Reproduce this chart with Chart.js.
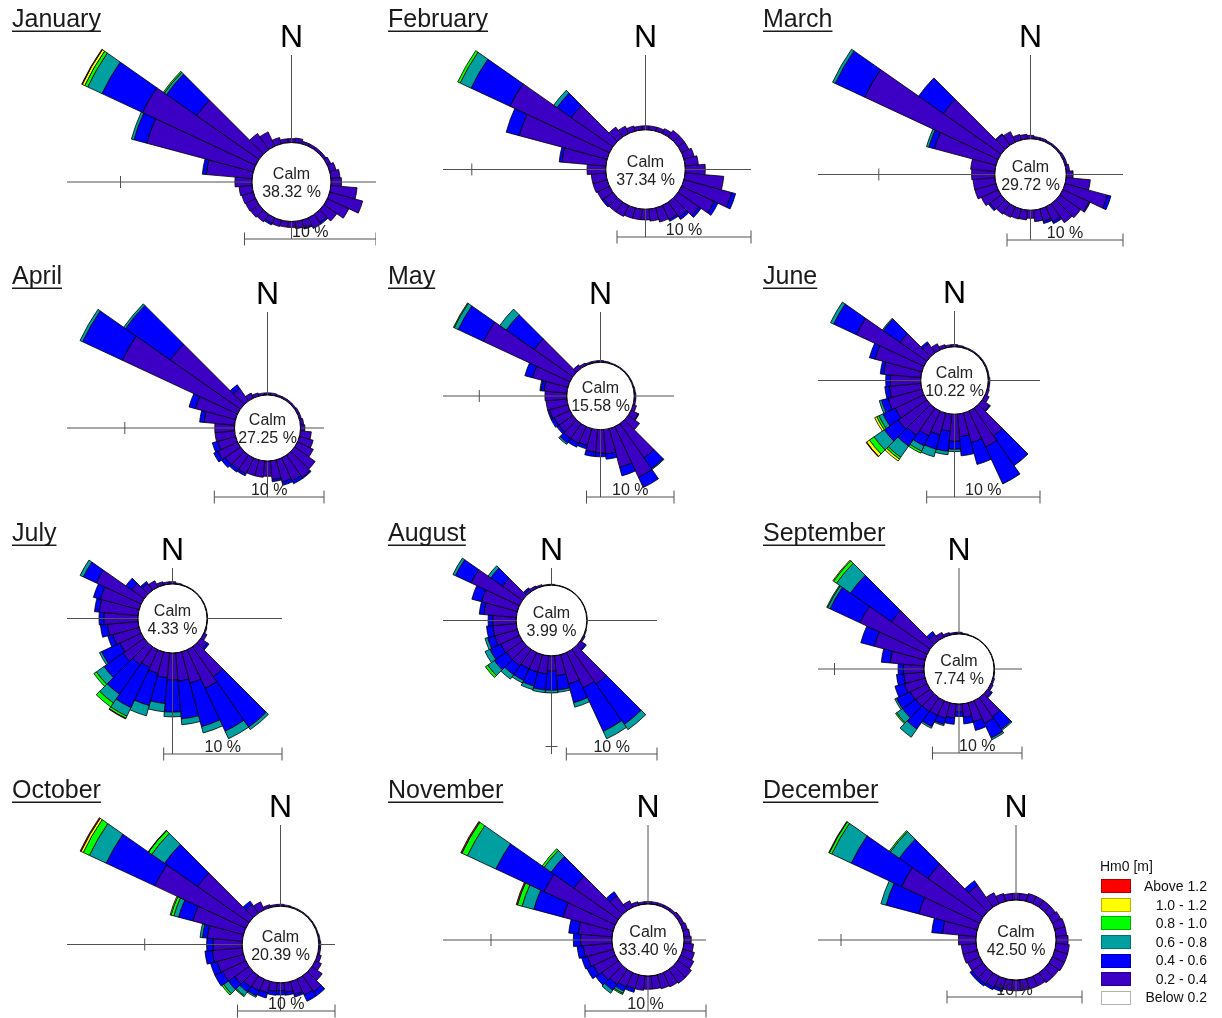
<!DOCTYPE html>
<html>
<head>
<meta charset="utf-8">
<script src="https://cdn.jsdelivr.net/npm/chart.js@4.4.0/dist/chart.umd.min.js"></script>
<style>
  html, body { margin: 0; padding: 0; background: #fff; width: 1222px; height: 1018px; overflow: hidden; }
  canvas { position: absolute; }
  .lg { position: absolute; font: 14px "Liberation Sans", Arial, sans-serif; color: #111; white-space: nowrap; }
  .lgbox { position: absolute; box-sizing: border-box; border: 1px solid rgba(0,0,0,0.3); }
</style>
</head>
<body>
<script>
// wave roses, Hm0 [m], 36 sectors of 10 degrees
const months = ['January', 'February', 'March', 'April', 'May', 'June',
  'July', 'August', 'September', 'October', 'November', 'December'];
const calmPercent = [38.32, 37.34, 29.72, 27.25, 15.58, 10.22, 4.33, 3.99, 7.74, 20.39, 33.40, 42.50];
const directions = [0, 10, 20, 30, 40, 50, 60, 70, 80, 90, 100, 110, 120, 130, 140, 150, 160, 170,
  180, 190, 200, 210, 220, 230, 240, 250, 260, 270, 280, 290, 300, 310, 320, 330, 340, 350];
const classLabels = ['0.2 - 0.4', '0.4 - 0.6', '0.6 - 0.8', '0.8 - 1.0', '1.0 - 1.2', 'Above 1.2'];

// frequency (%) per sector, one row per month
const hs02to04 = [
  [0.3,0.35,0.2,0.2,0.2,0.2, 0.3,0.5,0.7,0.8,2.0,2.6, 1.8,1.2,0.75,0.9,0.6,0.55, 0.45,0.45,0.5,0.45,0.7,0.8, 0.85,0.9,1.0,1.3,3.5,8.4, 9.5,5.8,1.5,1.2,0.5,0.3],
  [0.3,0.3,0.3,0.4,0.6,0.6, 0.6,0.8,1.0,1.5,2.9,3.7, 2.7,1.9,1.4,1.15,1.1,0.9, 0.8,0.8,0.8,0.9,0.9,0.85, 1.0,1.1,1.1,1.4,3.3,6.8, 8.2,3.8,0.9,0.6,0.4,0.3],
  [0.3,0.2,0.2,0.15,0.15,0.15, 0.2,0.2,0.3,0.6,2.1,3.8, 2.5,2.2,2.0,1.4,1.1,1.0, 0.7,0.85,0.9,1.0,1.1,1.2, 1.6,1.9,1.9,2.0,2.1,5.5, 12.7,6.1,1.1,1.0,0.5,0.4],
  [0.2,0.2,0.15,0.15,0.15,0.15, 0.2,0.2,0.3,0.4,1.0,1.3, 1.6,2.3,2.5,2.3,2.1,1.7, 1.4,1.5,1.5,1.6,1.6,1.7, 2.0,1.7,1.8,1.8,2.8,3.8, 11.6,7.8,1.4,0.5,0.3,0.2],
  [0.2,0.15,0.1,0.1,0.1,0.1, 0.1,0.1,0.15,0.2,0.2,0.4, 0.9,1.6,4.8,6.4,4.6,2.8, 2.7,2.6,2.0,2.1,2.1,1.95, 2.0,2.2,2.4,2.5,2.6,4.2, 10.9,5.4,0.5,0.3,0.2,0.2],
  [0.2,0.15,0.1,0.1,0.1,0.1, 0.1,0.1,0.1,0.15,0.15,0.2, 0.4,0.8,3.0,3.5,2.7,2.0, 2.4,1.5,2.0,2.4,2.9,3.1, 2.8,3.1,2.8,2.7,3.3,4.3, 6.6,2.9,1.0,0.6,0.3,0.2],
  [0.2,0.1,0.05,0.05,0.05,0.05, 0.05,0.05,0.05,0.05,0.05,0.1, 0.3,0.65,3.1,3.6,2.75,2.4, 2.3,2.1,1.9,1.65,1.85,2.2, 2.0,2.3,2.6,2.9,3.3,3.4, 4.2,1.3,0.7,0.6,0.3,0.2],
  [0.1,0.05,0.05,0.05,0.05,0.05, 0.05,0.05,0.05,0.05,0.05,0.1, 0.2,0.6,4.65,4.3,3.35,2.2, 1.7,2.0,2.0,2.0,2.2,2.2, 2.3,2.6,2.6,2.6,3.6,4.1, 5.9,2.7,0.3,0.3,0.2,0.1],
  [0.2,0.1,0.05,0.05,0.05,0.05, 0.05,0.05,0.05,0.05,0.1,0.2, 0.3,0.5,2.6,2.8,2.2,1.5, 0.9,1.6,1.8,1.8,1.9,2.0, 2.1,2.4,2.3,2.3,3.8,5.9, 8.3,5.3,0.8,0.6,0.3,0.2],
  [0.2,0.15,0.1,0.1,0.1,0.1, 0.1,0.1,0.15,0.2,0.2,0.4, 0.7,1.3,2.0,1.8,1.4,1.0, 0.8,0.9,1.2,1.3,1.4,1.8, 2.6,2.8,3.1,3.0,3.6,5.4, 10.3,6.45,1.1,0.9,0.3,0.2],
  [0.2,0.2,0.2,0.2,0.2,0.3, 0.3,0.4,0.5,0.6,0.8,1.0, 1.2,1.4,1.4,1.3,1.2,1.1, 1.1,1.2,1.2,1.3,1.5,1.7, 2.0,2.2,2.4,2.6,2.8,4.3, 6.5,4.5,1.5,0.6,0.3,0.2],
  [0.5,0.5,0.6,0.6,0.6,0.6, 0.7,0.8,0.8,0.9,1.0,1.0, 1.0,0.9,0.9,0.8,0.8,0.8, 0.8,0.8,0.8,0.9,1.0,1.0, 1.0,1.1,1.1,1.3,2.5,4.5, 6.4,5.0,2.0,0.9,0.6,0.5],
];
const hs04to06 = [
  [0,0,0,0,0,0, 0,0,0,0,0,0, 0,0,0.15,0,0.1,0, 0,0,0,0.15,0,0, 0,0,0,0,0.3,1.0, 3.4,2.8,0,0,0,0],
  [0,0,0,0,0,0, 0,0,0,0,0,0.3, 0.3,0.2,0.2,0.15,0,0, 0,0,0,0,0,0.15, 0,0,0,0,0.2,1.0, 3.2,1.3,0,0,0,0],
  [0,0,0,0,0,0, 0,0,0,0,0,0.3, 0.1,0,0,0.2,0.2,0, 0,0,0,0,0,0.15, 0,0,0,0,0,0.5, 2.8,2.6,0.1,0,0,0],
  [0,0,0,0,0,0, 0,0,0,0,0,0, 0,0,0.1,0.3,0.3,0.2, 0,0,0,0.2,0.3,0.4, 0.4,0.5,0,0,0.4,0.6, 4.0,5.0,0.4,0,0,0],
  [0,0,0,0,0,0, 0,0,0,0,0,0, 0.1,0,1.5,1.3,1.0,0.6, 0.4,0.5,0.4,0.5,0.6,0.3, 0.4,0.2,0,0,0.4,0.9, 3.2,3.9,0,0,0,0],
  [0,0,0,0,0,0, 0,0,0,0,0,0, 0,0.1,3.2,3.6,2.0,1.7, 0.7,1.8,1.3,1.0,1.2,1.5, 1.2,0.6,0.4,0.4,0.3,0.5, 2.2,1.8,0.2,0,0,0],
  [0,0,0,0,0,0, 0,0,0,0,0,0, 0,0.2,5.2,4.0,3.8,3.2, 2.7,2.2,2.8,3.75,3.05,1.95, 1.7,0.45,0.6,0.4,0.4,0.6, 1.2,0.6,0.2,0,0,0],
  [0,0,0,0,0,0, 0,0,0,0,0,0, 0,0.2,5.45,5.3,2.15,1.6, 2.1,1.8,1.6,1.4,1.2,1.6, 1.3,0.8,0.7,0.5,0.5,1.1, 1.9,1.6,0.2,0,0,0],
  [0,0,0,0,0,0, 0,0,0,0,0,0, 0,0.15,1.7,1.8,1.0,0.75, 0.5,0.7,0.7,1.4,2.4,1.8, 1.7,1.1,0.8,0.6,1.0,1.55, 3.7,5.6,0.4,0,0,0],
  [0,0,0,0,0,0, 0,0,0,0,0,0, 0,0,0.5,0.7,0.25,0.3, 0.45,0.4,0.55,0.6,0.6,0.8, 0.9,0.7,0.75,0.65,0.5,1.5, 5.5,4.15,0.4,0,0,0],
  [0,0,0,0,0,0, 0,0,0,0,0,0, 0,0,0,0,0,0, 0,0,0.3,0.4,0.6,0.6, 0.6,0.5,0.5,0.6,0.8,2.5, 4.4,2.3,0.4,0,0,0],
  [0,0,0,0,0,0, 0,0,0,0,0,0, 0,0,0,0,0,0, 0,0,0.2,0.2,0.2,0.2, 0,0,0,0,0.8,2.5, 4.1,2.6,0.4,0,0,0],
];
const hs06to08 = [
  [0,0,0,0,0,0, 0,0,0,0,0,0, 0,0,0,0,0,0, 0,0,0,0,0,0, 0,0,0,0,0,0.2, 1.2,0.2,0,0,0,0],
  [0,0,0,0,0,0, 0,0,0,0,0,0, 0,0,0,0,0,0, 0,0,0,0,0,0, 0,0,0,0,0,0, 0.9,0.3,0,0,0,0],
  [0,0,0,0,0,0, 0,0,0,0,0,0, 0,0,0,0,0,0, 0,0,0,0,0,0, 0,0,0,0,0,0.2, 0.25,0,0,0,0,0],
  [0,0,0,0,0,0, 0,0,0,0,0,0, 0,0,0,0,0,0, 0,0,0,0,0,0, 0,0,0,0,0,0, 0.25,0.2,0,0,0,0],
  [0,0,0,0,0,0, 0,0,0,0,0,0, 0,0,0.1,0,0,0, 0,0,0,0,0.2,0, 0,0,0,0,0.1,0, 0.5,0.9,0,0,0,0],
  [0,0,0,0,0,0, 0,0,0,0,0,0, 0,0,0,0,0,0, 0.2,0.3,0.7,0.5,1.2,1.1, 0.4,0.2,0,0,0,0, 0.3,0.1,0,0,0,0],
  [0,0,0,0,0,0, 0,0,0,0,0,0, 0,0,0.25,0.7,0.55,0.5, 0.4,0.7,0.9,0.8,0.9,0.8, 0.2,0,0,0,0,0, 0.3,0,0,0,0,0],
  [0,0,0,0,0,0, 0,0,0,0,0,0, 0,0,0.7,0.9,0.5,0.25, 0.3,0.3,0.4,0.3,0.6,0.9, 0.6,0.3,0,0,0,0, 0.3,0.35,0,0,0,0],
  [0,0,0,0,0,0, 0,0,0,0,0,0, 0,0,0.15,0.2,0,0, 0,0,0.15,0.2,1.1,0.8, 0.2,0,0,0,0,0, 0.3,1.9,0,0,0,0],
  [0,0,0,0,0,0, 0,0,0,0,0,0, 0,0,0,0,0,0, 0,0,0,0.15,0.5,0.6, 0,0,0,0,0.25,0.5, 1.9,1.6,0,0,0,0],
  [0,0,0,0,0,0, 0,0,0,0,0,0, 0,0,0,0,0,0, 0,0,0,0.2,0.3,0, 0,0,0,0,0,1.0, 2.6,0.7,0,0,0,0],
  [0,0,0,0,0,0, 0,0,0,0,0,0, 0,0,0,0,0,0, 0,0,0,0,0,0, 0,0,0,0,0,0.4, 1.6,0.8,0,0,0,0],
];
const hs08to10 = [
  [0,0,0,0,0,0, 0,0,0,0,0,0, 0,0,0,0,0,0, 0,0,0,0,0,0, 0,0,0,0,0,0, 0.25,0.1,0,0,0,0],
  [0,0,0,0,0,0, 0,0,0,0,0,0, 0,0,0,0,0,0, 0,0,0,0,0,0, 0,0,0,0,0,0, 0.2,0,0,0,0,0],
  [0,0,0,0,0,0, 0,0,0,0,0,0, 0,0,0,0,0,0, 0,0,0,0,0,0, 0,0,0,0,0,0, 0,0,0,0,0,0],
  [0,0,0,0,0,0, 0,0,0,0,0,0, 0,0,0,0,0,0, 0,0,0,0,0,0, 0,0,0,0,0,0, 0,0,0,0,0,0],
  [0,0,0,0,0,0, 0,0,0,0,0,0, 0,0,0,0,0,0, 0,0,0,0,0,0, 0,0,0,0,0,0, 0.1,0,0,0,0,0],
  [0,0,0,0,0,0, 0,0,0,0,0,0, 0,0,0,0,0,0, 0,0,0,0.2,0.2,0.5, 0.2,0,0,0,0,0, 0,0,0,0,0,0],
  [0,0,0,0,0,0, 0,0,0,0,0,0, 0,0,0,0,0,0, 0,0,0,0.2,0.4,0.25, 0,0,0,0,0,0, 0,0,0,0,0,0],
  [0,0,0,0,0,0, 0,0,0,0,0,0, 0,0,0,0,0,0, 0,0,0,0,0,0.3, 0,0,0,0,0,0, 0,0,0,0,0,0],
  [0,0,0,0,0,0, 0,0,0,0,0,0, 0,0,0,0,0,0, 0,0,0,0,0,0.15, 0,0,0,0,0,0, 0.1,0.4,0,0,0,0],
  [0,0,0,0,0,0, 0,0,0,0,0,0, 0,0,0,0,0,0, 0,0,0,0,0.1,0.2, 0,0,0,0,0,0.3, 0.7,0.4,0,0,0,0],
  [0,0,0,0,0,0, 0,0,0,0,0,0, 0,0,0,0,0,0, 0,0,0,0.1,0,0, 0,0,0,0,0,0.4, 0.5,0.2,0,0,0,0],
  [0,0,0,0,0,0, 0,0,0,0,0,0, 0,0,0,0,0,0, 0,0,0,0,0,0, 0,0,0,0,0,0, 0.2,0.1,0,0,0,0],
];
const hs10to12 = [
  [0,0,0,0,0,0, 0,0,0,0,0,0, 0,0,0,0,0,0, 0,0,0,0,0,0, 0,0,0,0,0,0, 0.2,0,0,0,0,0],
  [0,0,0,0,0,0, 0,0,0,0,0,0, 0,0,0,0,0,0, 0,0,0,0,0,0, 0,0,0,0,0,0, 0,0,0,0,0,0],
  [0,0,0,0,0,0, 0,0,0,0,0,0, 0,0,0,0,0,0, 0,0,0,0,0,0, 0,0,0,0,0,0, 0,0,0,0,0,0],
  [0,0,0,0,0,0, 0,0,0,0,0,0, 0,0,0,0,0,0, 0,0,0,0,0,0, 0,0,0,0,0,0, 0,0,0,0,0,0],
  [0,0,0,0,0,0, 0,0,0,0,0,0, 0,0,0,0,0,0, 0,0,0,0,0,0, 0,0,0,0,0,0, 0,0,0,0,0,0],
  [0,0,0,0,0,0, 0,0,0,0,0,0, 0,0,0,0,0,0, 0,0,0,0,0.2,0.3, 0.2,0,0,0,0,0, 0,0,0,0,0,0],
  [0,0,0,0,0,0, 0,0,0,0,0,0, 0,0,0,0,0,0, 0,0,0,0,0,0, 0,0,0,0,0,0, 0,0,0,0,0,0],
  [0,0,0,0,0,0, 0,0,0,0,0,0, 0,0,0,0,0,0, 0,0,0,0,0,0, 0,0,0,0,0,0, 0,0,0,0,0,0],
  [0,0,0,0,0,0, 0,0,0,0,0,0, 0,0,0,0,0,0, 0,0,0,0,0,0, 0,0,0,0,0,0, 0,0.1,0,0,0,0],
  [0,0,0,0,0,0, 0,0,0,0,0,0, 0,0,0,0,0,0, 0,0,0,0,0,0, 0,0,0,0,0,0.1, 0.25,0,0,0,0,0],
  [0,0,0,0,0,0, 0,0,0,0,0,0, 0,0,0,0,0,0, 0,0,0,0,0,0, 0,0,0,0,0,0, 0,0,0,0,0,0],
  [0,0,0,0,0,0, 0,0,0,0,0,0, 0,0,0,0,0,0, 0,0,0,0,0,0, 0,0,0,0,0,0, 0,0,0,0,0,0],
];
const hsAbove12 = [
  [0,0,0,0,0,0, 0,0,0,0,0,0, 0,0,0,0,0,0, 0,0,0,0,0,0, 0,0,0,0,0,0, 0.05,0,0,0,0,0],
  [0,0,0,0,0,0, 0,0,0,0,0,0, 0,0,0,0,0,0, 0,0,0,0,0,0, 0,0,0,0,0,0, 0,0,0,0,0,0],
  [0,0,0,0,0,0, 0,0,0,0,0,0, 0,0,0,0,0,0, 0,0,0,0,0,0, 0,0,0,0,0,0, 0,0,0,0,0,0],
  [0,0,0,0,0,0, 0,0,0,0,0,0, 0,0,0,0,0,0, 0,0,0,0,0,0, 0,0,0,0,0,0, 0,0,0,0,0,0],
  [0,0,0,0,0,0, 0,0,0,0,0,0, 0,0,0,0,0,0, 0,0,0,0,0,0, 0,0,0,0,0,0, 0,0,0,0,0,0],
  [0,0,0,0,0,0, 0,0,0,0,0,0, 0,0,0,0,0,0, 0,0,0,0,0,0.05, 0,0,0,0,0,0, 0,0,0,0,0,0],
  [0,0,0,0,0,0, 0,0,0,0,0,0, 0,0,0,0,0,0, 0,0,0,0.05,0,0, 0,0,0,0,0,0, 0,0,0,0,0,0],
  [0,0,0,0,0,0, 0,0,0,0,0,0, 0,0,0,0,0,0, 0,0,0,0,0,0, 0,0,0,0,0,0, 0,0,0,0,0,0],
  [0,0,0,0,0,0, 0,0,0,0,0,0, 0,0,0,0,0,0, 0,0,0,0,0,0, 0,0,0,0,0,0, 0,0,0,0,0,0],
  [0,0,0,0,0,0, 0,0,0,0,0,0, 0,0,0,0,0,0, 0,0,0,0,0,0, 0,0,0,0,0,0, 0.1,0.05,0,0,0,0],
  [0,0,0,0,0,0, 0,0,0,0,0,0, 0,0,0,0,0,0, 0,0,0,0,0,0, 0,0,0,0,0,0.1, 0.1,0,0,0,0,0],
  [0,0,0,0,0,0, 0,0,0,0,0,0, 0,0,0,0,0,0, 0,0,0,0,0,0, 0,0,0,0,0,0, 0.05,0,0,0,0,0],
];
const classSeries = [hs02to04, hs04to06, hs06to08, hs08to10, hs10to12, hsAbove12];
const classColors = ['#3c00c4', '#0000ff', '#00a0a0', '#00ff00', '#ffff00', '#ff0000'];

const FONT = '"Liberation Sans", Arial, sans-serif';

// panel placement on the page: plot box, rose centre, pixels per percent, calm circle radius
const cellX = [0, 376, 751];
const cellY = [0, 257, 514, 771];
const layout = [
  { L: 67,  R: 376,  T: 55,  B: 239,  cx: 291.5,  cy: 182,   ppu: 13.15, calmPx: 39.5 },
  { L: 443, R: 751,  T: 55,  B: 237,  cx: 645.5,  cy: 169.5, ppu: 13.4,  calmPx: 39.7 },
  { L: 818, R: 1123, T: 55,  B: 240,  cx: 1030.5, cy: 174.5, ppu: 11.6,  calmPx: 35.7 },
  { L: 67,  R: 324,  T: 312, B: 497,  cx: 267.5,  cy: 428,   ppu: 10.97, calmPx: 33 },
  { L: 443, R: 674,  T: 312, B: 497,  cx: 600.5,  cy: 396,   ppu: 8.75,  calmPx: 33.7 },
  { L: 818, R: 1040, T: 311, B: 497,  cx: 954.5,  cy: 380.5, ppu: 11.33, calmPx: 33.7 },
  { L: 67,  R: 282,  T: 568, B: 754,  cx: 172.5,  cy: 618.5, ppu: 11.83, calmPx: 34.5 },
  { L: 443, R: 657,  T: 568, B: 754,  cx: 551.5,  cy: 620.5, ppu: 9.07,  calmPx: 35.3 },
  { L: 818, R: 1022, T: 568, B: 753,  cx: 959,    cy: 669,   ppu: 8.95,  calmPx: 35 },
  { L: 67,  R: 335,  T: 825, B: 1011, cx: 280.5,  cy: 944.5, ppu: 9.75,  calmPx: 38.3 },
  { L: 443, R: 706,  T: 825, B: 1011, cx: 648,    cy: 940,   ppu: 12.1,  calmPx: 36 },
  { L: 818, R: 1082, T: 825, B: 997,  cx: 1016,   cy: 940,   ppu: 13.5,  calmPx: 40 },
];

const roseDrawer = {
  id: 'rose',
  afterDatasetsDraw(chart, args, opts) {
    const ctx = chart.ctx;
    const sx = chart.scales.x, sy = chart.scales.y;
    const area = chart.chartArea;
    const cx = sx.getPixelForValue(0);
    const cy = sy.getPixelForValue(0);
    const rad = v => sx.getPixelForValue(v) - cx;
    const calm = opts.calm;

    ctx.save();

    // stacked sectors
    ctx.lineWidth = 0.8;
    ctx.strokeStyle = '#000';
    directions.forEach((dir, i) => {
      const a0 = (dir - 95) * Math.PI / 180;
      const a1 = (dir - 85) * Math.PI / 180;
      let inner = calm;
      chart.data.datasets.forEach(ds => {
        const v = ds.data[i];
        if (!v) return;
        const outer = inner + v;
        ctx.beginPath();
        ctx.arc(cx, cy, rad(outer), a0, a1);
        ctx.arc(cx, cy, rad(inner), a1, a0, true);
        ctx.closePath();
        ctx.fillStyle = ds.backgroundColor;
        ctx.fill();
        ctx.stroke();
        inner = outer;
      });
    });

    // cross axes
    ctx.strokeStyle = '#505050';
    ctx.lineWidth = 1;
    ctx.beginPath();
    ctx.moveTo(area.left, cy); ctx.lineTo(area.right, cy);
    ctx.moveTo(cx, area.top); ctx.lineTo(cx, area.bottom);
    ctx.stroke();

    // 10 % marks on the axes
    const tr = rad(calm + 10);
    [[-1, 0], [1, 0], [0, -1], [0, 1]].forEach(([dx, dy]) => {
      const x = cx + dx * tr, y = cy + dy * tr;
      if (x < area.left || x > area.right || y < area.top || y > area.bottom) return;
      ctx.beginPath();
      if (dx) { ctx.moveTo(x, y - 6); ctx.lineTo(x, y + 6); }
      else { ctx.moveTo(x - 6, y); ctx.lineTo(x + 6, y); }
      ctx.stroke();
    });

    // calm circle
    ctx.beginPath();
    ctx.arc(cx, cy, rad(calm), 0, Math.PI * 2);
    ctx.fillStyle = '#fff';
    ctx.fill();
    ctx.strokeStyle = '#000';
    ctx.stroke();
    ctx.fillStyle = '#222';
    ctx.font = `16px ${FONT}`;
    ctx.textAlign = 'center';
    ctx.textBaseline = 'alphabetic';
    ctx.fillText('Calm', cx, cy - 3);
    ctx.fillText(`${opts.calmValue.toFixed(2)} %`, cx, cy + 15);

    // north label
    ctx.fillStyle = '#000';
    ctx.font = `32px ${FONT}`;
    ctx.fillText('N', cx, area.top - 8);

    // scale bar
    const x1 = area.right, x0 = area.right - rad(10), yb = area.bottom;
    ctx.strokeStyle = '#505050';
    ctx.beginPath();
    ctx.moveTo(x0, yb); ctx.lineTo(x1, yb);
    ctx.moveTo(x0, yb - 6.5); ctx.lineTo(x0, yb + 6.5);
    ctx.moveTo(x1, yb - 6.5); ctx.lineTo(x1, yb + 6.5);
    ctx.stroke();
    ctx.fillStyle = '#222';
    ctx.font = `16px ${FONT}`;
    ctx.fillText('10 %', (x0 + x1) / 2, yb - 2.5);

    // month title, underlined
    ctx.textAlign = 'left';
    ctx.font = `25px ${FONT}`;
    ctx.fillStyle = '#1a1a1a';
    ctx.fillText(opts.title, 12, 27);
    const w = ctx.measureText(opts.title).width;
    ctx.fillRect(12, 30.5, w, 1.5);

    ctx.restore();
  }
};

months.forEach((name, m) => {
  const lay = layout[m];
  const px = cellX[m % 3], py = cellY[Math.floor(m / 3)];
  const W = 376, H = m >= 9 ? 247 : 257;
  const canvas = document.createElement('canvas');
  canvas.width = W; canvas.height = H;
  canvas.style.left = px + 'px'; canvas.style.top = py + 'px';
  canvas.style.width = W + 'px'; canvas.style.height = H + 'px';
  document.body.appendChild(canvas);

  new Chart(canvas, {
    type: 'scatter',
    data: {
      labels: directions,
      datasets: classSeries.map((series, k) => ({
        label: classLabels[k],
        data: series[m],
        backgroundColor: classColors[k],
        pointRadius: 0,
        showLine: false,
      })),
    },
    options: {
      responsive: false,
      animation: false,
      devicePixelRatio: 1,
      events: [],
      layout: {
        padding: { left: lay.L - px, right: px + W - lay.R, top: lay.T - py, bottom: py + H - lay.B },
      },
      scales: {
        x: { type: 'linear', display: false, min: -(lay.cx - lay.L) / lay.ppu, max: (lay.R - lay.cx) / lay.ppu },
        y: { type: 'linear', display: false, min: -(lay.B - lay.cy) / lay.ppu, max: (lay.cy - lay.T) / lay.ppu },
      },
      plugins: {
        legend: { display: false },
        tooltip: { enabled: false },
        rose: { calm: lay.calmPx / lay.ppu, calmValue: calmPercent[m], title: name },
      },
    },
    plugins: [roseDrawer],
  });
});

// legend
const legendRows = classLabels.map((l, k) => ({ label: l, color: classColors[k] })).reverse();
legendRows.push({ label: 'Below 0.2', color: '#ffffff' });
const title = document.createElement('div');
title.className = 'lg';
title.style.left = '1100px'; title.style.top = '858px';
title.textContent = 'Hm0 [m]';
document.body.appendChild(title);
legendRows.forEach((row, k) => {
  const yc = 886 + k * 18.55;
  const box = document.createElement('div');
  box.className = 'lgbox';
  box.style.left = '1101px'; box.style.top = (yc - 6.7) + 'px';
  box.style.width = '30px'; box.style.height = '14px';
  box.style.background = row.color;
  document.body.appendChild(box);
  const lab = document.createElement('div');
  lab.className = 'lg';
  lab.style.left = '1130px'; lab.style.width = '77px'; lab.style.textAlign = 'right';
  lab.style.top = (yc - 8) + 'px'; lab.style.lineHeight = '16px';
  lab.textContent = row.label;
  document.body.appendChild(lab);
});
</script>
</body>
</html>
